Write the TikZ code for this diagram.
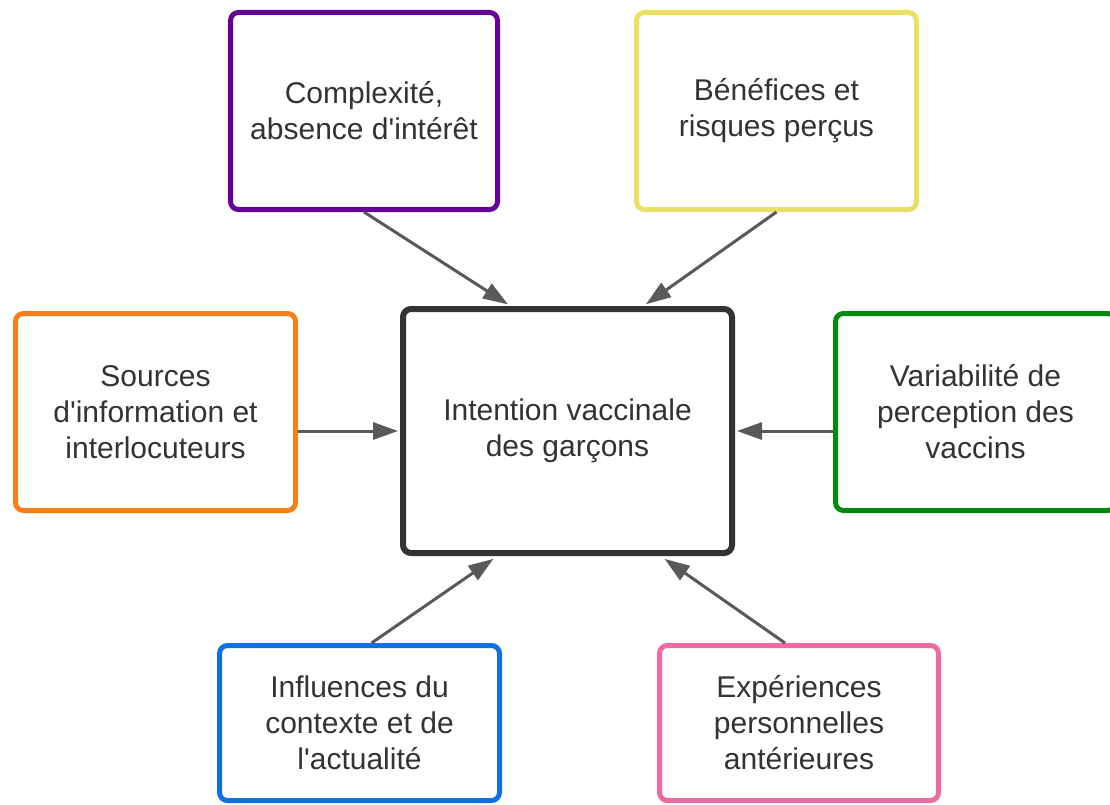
\documentclass[tikz,border=0pt]{standalone}
\usepackage{fontspec}
\setmainfont{Liberation Sans}[Ligatures=TeXOff]
\usetikzlibrary{arrows.meta,calc}
\definecolor{cpurple}{HTML}{660099}
\definecolor{cyellow}{HTML}{E9E065}
\definecolor{corange}{HTML}{F77F1A}
\definecolor{cgreen}{HTML}{008A0E}
\definecolor{cblue}{HTML}{1071E5}
\definecolor{cpink}{HTML}{EF6AA0}
\definecolor{cdark}{HTML}{333333}
\definecolor{carrow}{HTML}{595959}
\definecolor{ctext}{HTML}{333333}
\begin{document}
\begin{tikzpicture}[x=1pt,y=-1pt,
  box/.style={draw, line width=5pt, rounded corners=8pt, fill=white,
    align=center, text=ctext, inner sep=0pt,
    font=\fontsize{30pt}{36pt}\selectfont},
  conn/.style={draw=carrow, line width=3pt,
    -{Triangle[length=25pt,width=17pt]}}]
\clip (0,0) rectangle (1110,805);
\fill[white] (0,0) rectangle (1110,805);
\node[box, draw=cpurple, minimum width=267pt, minimum height=197pt] (p) at (364,111) {Complexité,\\absence d'intérêt};
\node[box, draw=cyellow, minimum width=280pt, minimum height=197pt] (y) at (776.5,111) {Bénéfices et\\risques perçus};
\node[box, draw=corange, minimum width=280pt, minimum height=197pt] (o) at (155.5,412) {Sources\\d'information et\\interlocuteurs};
\node[box, draw=cdark, line width=6pt, minimum width=329pt, minimum height=244pt] (c) at (567.5,431) {Intention vaccinale\\des garçons};
\node[box, draw=cgreen, minimum width=280pt, minimum height=197pt] (g) at (975.5,412) {Variabilité de\\perception des\\vaccins};
\node[box, draw=cblue, minimum width=280pt, minimum height=155pt] (b) at (359.5,723) {Influences du\\contexte et de\\l'actualité};
\node[box, draw=cpink, minimum width=279pt, minimum height=155pt] (k) at (799,723) {Expériences\\personnelles\\antérieures};
\draw[conn, shorten >=3pt] (p.south) -- ($(c.north)+(-57,0)$);
\draw[conn, shorten >=3pt] (y.south) -- ($(c.north)+(76,0)$);
\draw[conn, shorten >=2pt] (o.east |- c.west) -- (c.west);
\draw[conn, shorten >=2pt] (g.west |- c.east) -- (c.east);
\draw[conn, shorten >=5pt] ($(b.north)+(12,0)$) -- ($(c.south)+(-70,0)$);
\draw[conn, shorten >=5pt] ($(k.north)+(-14,0)$) -- ($(c.south)+(93,0)$);
\end{tikzpicture}
\end{document}
